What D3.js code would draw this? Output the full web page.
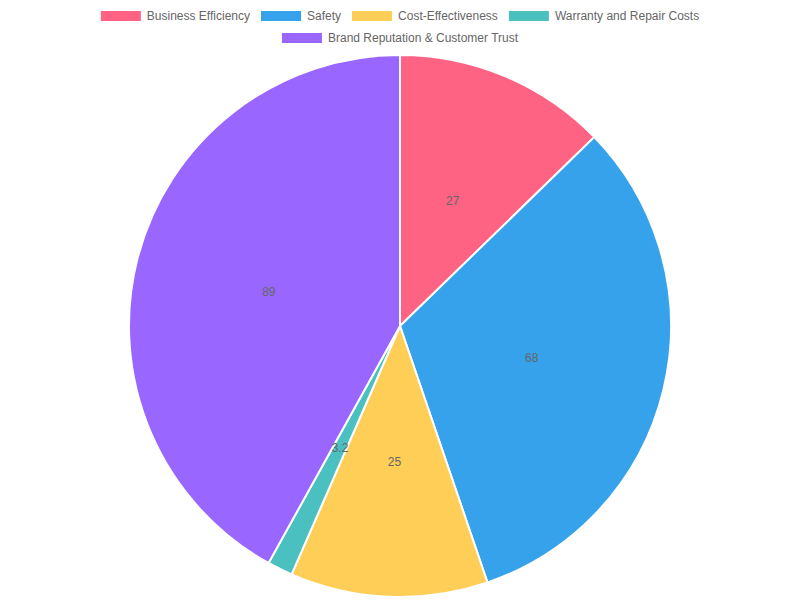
<!DOCTYPE html>
<html>
<head>
<meta charset="utf-8">
<script src="https://cdn.jsdelivr.net/npm/d3@7"></script>
<style>body{margin:0;background:#fff;}</style>
</head>
<body>
<svg id="chart" width="800" height="600"></svg>
<script>
const categories = ["Business Efficiency", "Safety", "Cost-Effectiveness", "Warranty and Repair Costs", "Brand Reputation & Customer Trust"];
const values = [27, 68, 25, 3.2, 89];
const colors = ["#FF6384", "#36A2EB", "#FFCE56", "#4BC0C0", "#9966FF"];
const legendRows = [[0, 1, 2, 3], [4]];

const svg = d3.select("#chart");
const font = "Helvetica, Arial, 'Liberation Sans', sans-serif";
const cx = 400, cy = 326, radius = 271;

const pie = d3.pie().sort(null).value((d) => d)(values);
const arc = d3.arc().innerRadius(0).outerRadius(radius);
const labelArc = d3.arc().innerRadius(radius * 0.5).outerRadius(radius * 0.5);

const g = svg.append("g").attr("transform", `translate(${cx},${cy})`);
g.selectAll("path").data(pie).enter().append("path")
  .attr("d", arc)
  .attr("fill", (d, i) => colors[i])
  .attr("stroke", "#fff")
  .attr("stroke-width", 2);

g.selectAll("text").data(pie).enter().append("text")
  .attr("transform", (d) => `translate(${labelArc.centroid(d)})`)
  .attr("text-anchor", "middle")
  .attr("dy", "0.35em")
  .style("font-family", font)
  .style("font-size", "12px")
  .style("fill", "#666")
  .text((d) => d.data);

// legend
legendRows.forEach((row, r) => {
  const y = 16 + r * 22;
  const lg = svg.append("g");
  let x = 0;
  row.forEach((i) => {
    const item = lg.append("g").attr("transform", `translate(${x},0)`);
    item.append("rect").attr("x", 0).attr("y", y - 5).attr("width", 40).attr("height", 10)
      .attr("fill", colors[i]);
    const t = item.append("text").attr("x", 46).attr("y", y).attr("dy", "0.35em")
      .style("font-family", font).style("font-size", "12px").style("fill", "#666")
      .text(categories[i]);
    x += 46 + t.node().getComputedTextLength() + 11;
  });
  const w = x - 11;
  lg.attr("transform", `translate(${(800 - w) / 2},0)`);
});
</script>
</body>
</html>
